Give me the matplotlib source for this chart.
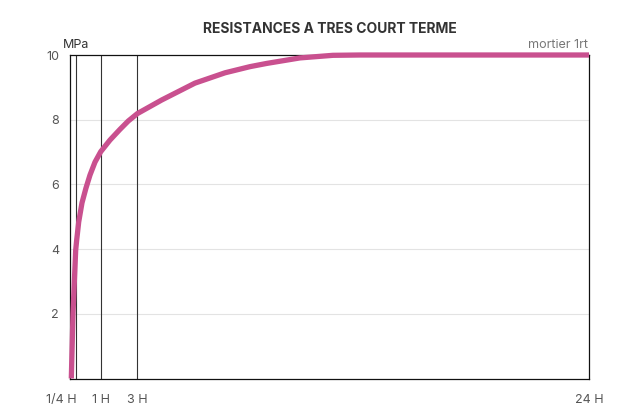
import numpy as np
import matplotlib
matplotlib.use('Agg')
import matplotlib.pyplot as plt

plt.rcParams['font.family'] = ['Inter', 'DejaVu Sans']

# valeurs (heures, MPa)
heures = [0.052, 0.119, 0.226, 0.262, 0.324, 0.425, 0.548, 0.671, 0.825,
          1.0, 1.51, 2.06, 2.52, 3.02, 4.15, 5.69, 7.09, 8.25, 9.03,
          10.57, 12.1, 13.36, 24.0]
mpa = [0.0, 2.02, 3.97, 4.28, 4.84, 5.43, 5.89, 6.29, 6.69,
       7.01, 7.37, 7.70, 7.96, 8.19, 8.61, 9.13, 9.45, 9.64, 9.74,
       9.91, 9.99, 10.0, 10.0]

repere_h = [0.25, 1, 3]
tick_h = [0.25, 1, 3, 24]
tick_labels = ['1/4 H', '1 H', '3 H', '24 H']
y_ticks = [2, 4, 6, 8, 10]

# echelle non lineaire de l'axe du temps
knots_h = [0, 0.25, 1, 3, 24]
knots_p = [0, 6.3, 30.7, 67, 519]


def fwd(h):
    return np.interp(h, knots_h, knots_p)


def inv(p):
    return np.interp(p, knots_p, knots_h)


fig = plt.figure(figsize=(6.34, 4.18), dpi=100)
ax = fig.add_axes([70 / 634, 1 - 378.5 / 418, 519 / 634, (378.5 - 55) / 418])
ax.set_xscale('function', functions=(fwd, inv))
ax.set_xlim(0, 24)
ax.set_ylim(0, 10)

for y in y_ticks[:-1]:
    ax.axhline(y, color='#e3e3e3', lw=0.8, zorder=0)
for h in repere_h:
    ax.axvline(h, color='#333333', lw=0.8, zorder=1)

ax.plot(heures, mpa, color='#c9508f', lw=3.8, solid_capstyle='butt',
        solid_joinstyle='round', zorder=3, clip_on=False)

for s in ax.spines.values():
    s.set_color('#111111')
    s.set_linewidth(0.9)

ax.set_yticks(y_ticks)
ax.set_yticklabels([str(v) for v in y_ticks])
ax.tick_params(axis='y', length=0, pad=8, labelsize=9, labelcolor='#555555')
ax.set_xticks(tick_h)
ax.set_xticklabels(tick_labels)
ax.tick_params(axis='x', length=0, pad=11, labelsize=9, labelcolor='#555555')
ax.get_xticklabels()[0].set_horizontalalignment('right')
ax.minorticks_off()

fig.text(330 / 634, 1 - 29 / 418, 'RESISTANCES A TRES COURT TERME', ha='center',
         va='center', fontsize=10, fontweight='bold', color='#333333')
fig.text(63 / 634, 1 - 45 / 418, 'MPa', ha='left', va='center', fontsize=9,
         color='#333333')
fig.text(588 / 634, 1 - 45 / 418, 'mortier 1rt', ha='right', va='center',
         fontsize=9, color='#777777')

fig.savefig('out.png', dpi=100)
